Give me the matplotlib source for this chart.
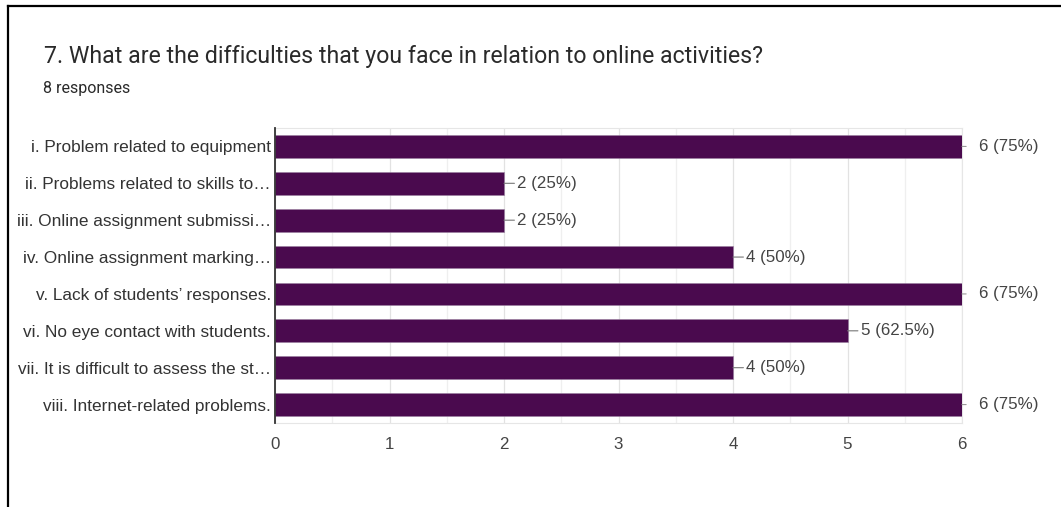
import matplotlib
matplotlib.use("Agg")
import matplotlib.pyplot as plt
from matplotlib.ticker import MultipleLocator
import numpy as np

title = "7. What are the difficulties that you face in relation to online activities?"
subtitle = "8 responses"

categories = [
    "i. Problem related to equipment",
    "ii. Problems related to skills to\u2026",
    "iii. Online assignment submissi\u2026",
    "iv. Online assignment marking\u2026",
    "v. Lack of students\u2019 responses.",
    "vi. No eye contact with students.",
    "vii. It is difficult to assess the st\u2026",
    "viii. Internet-related problems.",
]
counts = [6, 2, 2, 4, 6, 5, 4, 6]
percents = ["75%", "25%", "25%", "50%", "75%", "62.5%", "50%", "75%"]

bar_color = "#4a0a4e"
text_color = "#444444"
font = "Liberation Sans"

fig = plt.figure(figsize=(10.61, 5.07), dpi=100)

# frame around the card
fig.add_artist(plt.Line2D([8 / 1061, 8 / 1061], [0, 1 - 6 / 507], color="black", lw=1.6))
fig.add_artist(plt.Line2D([8 / 1061, 1], [1 - 6 / 507, 1 - 6 / 507], color="black", lw=1.6))

fig.text(44 / 1061, 1 - 57 / 507, title, fontsize=16.7, family="Roboto", color="#2a2a2a", va="center")
fig.text(43 / 1061, 1 - 88 / 507, subtitle, fontsize=11.5, family="Roboto", color="#2a2a2a", va="center")

ax = fig.add_axes([275 / 1061, 1 - 423 / 507, 687 / 1061, 295 / 507])
y = np.arange(len(categories))
ax.barh(y, counts, height=0.62, color=bar_color, edgecolor="#9a7fa0", linewidth=0.4, zorder=3)

ax.set_xlim(0, 6)
ax.set_ylim(7.5, -0.5)
ax.set_yticks(y)
ax.set_yticklabels(categories, family=font, fontsize=12.4, color="#333333")
ax.xaxis.set_major_locator(MultipleLocator(1))
ax.xaxis.set_minor_locator(MultipleLocator(0.5))
ax.tick_params(axis="both", which="both", length=0)
ax.tick_params(axis="y", pad=3)
ax.tick_params(axis="x", pad=10, labelsize=12.2, labelcolor=text_color)
for lab in ax.get_xticklabels():
    lab.set_family(font)
ax.grid(axis="x", which="major", color="#e2e2e2", lw=0.9, zorder=0)
ax.grid(axis="x", which="minor", color="#efefef", lw=0.9, zorder=0)

for side in ["top", "bottom", "right"]:
    ax.spines[side].set_color("#e6e6e6")
ax.spines["left"].set_color("#333333")
ax.spines["left"].set_linewidth(1.3)
ax.spines["left"].set_zorder(4)

vmax = max(counts)
for yi, c, p in zip(y, counts, percents):
    label = f"{c} ({p})"
    if c == vmax:
        # short stub past the plot edge, label set further out
        ax.annotate("", xy=(c, yi), xytext=(3, 0), textcoords="offset points",
                    arrowprops=dict(arrowstyle="-", color="#999999", lw=0.8, shrinkA=0, shrinkB=0),
                    annotation_clip=False)
        ax.annotate(label, xy=(c, yi), xytext=(12.5, 0), textcoords="offset points",
                    va="center", ha="left", fontsize=12.2, family=font, color=text_color,
                    annotation_clip=False)
    else:
        ax.annotate(label, xy=(c, yi), xytext=(9.5, 0), textcoords="offset points",
                    va="center", ha="left", fontsize=12.2, family=font, color=text_color,
                    arrowprops=dict(arrowstyle="-", color="#777777", lw=0.8,
                                    shrinkA=0, shrinkB=0))

fig.savefig("out.png", dpi=100)
